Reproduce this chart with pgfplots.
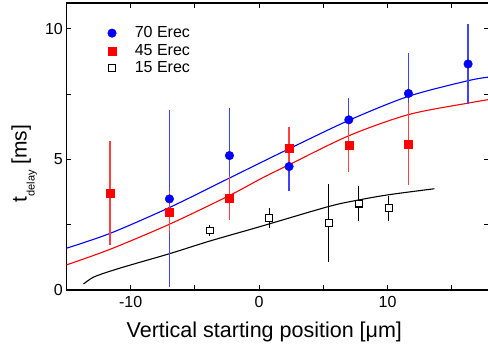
\documentclass[border=0pt]{standalone}
\usepackage{fontspec}
\setmainfont{Liberation Sans}
\usepackage{pgfplots}
\pgfplotsset{compat=1.18}
\begin{document}
\begin{tikzpicture}[x=1bp,y=1bp]
\begin{axis}[
  at={(0bp,0bp)}, anchor=south west,
  scale only axis, width=423bp, height=287.1bp,
  xmin=-15, xmax=17.92, ymin=0, ymax=11,
  xtick={-10,0,10}, minor xtick={-15,-5,5,15},
  ytick={0,5,10}, minor ytick={2.5,7.5},
  tick align=inside, tick pos=both, xticklabel pos=lower, yticklabel pos=left,
  major tick length=5bp, minor tick length=5bp,
  axis line style={line width=1.3bp},
  every tick/.style={black, line width=1bp},
  tick label style={font=\fontsize{16bp}{19bp}\selectfont},
  /pgf/number format/assume math mode=true,
  xticklabel style={yshift=-3bp},
  xlabel={Vertical starting position [μm]},
  xlabel style={font=\fontsize{21.5bp}{24bp}\selectfont, at={(axis description cs:0.468,0)}, anchor=center, yshift=-42bp},
  ylabel={t\raisebox{-8bp}{\fontsize{11bp}{11bp}\selectfont delay} [ms]},
  ylabel style={font=\fontsize{21bp}{24bp}\selectfont, at={(axis description cs:-0.1,0.44)}, anchor=center},
  legend cell align=left,
  legend image code/.code={\draw[#1] plot coordinates {(0bp,0bp)};},
  legend style={draw=none, fill=none, at={(axis cs:-11.8,10.15)}, anchor=north west, inner sep=0pt, row sep=2bp,
    font=\fontsize{16bp}{19bp}\selectfont, nodes={inner sep=1.5bp},
    /tikz/every odd column/.append style={column sep=17bp}},
]
% fitted curves
\addplot[forget plot, blue, line width=1.1bp, smooth] coordinates {
(-15,1.60) (-11.6,2.17) (-6.98,3.16) (-2.31,4.29) (0.08,4.87) (2.33,5.41) (6.98,6.50) (11.62,7.42) (16.26,8.02) (17.92,8.16)};
\addplot[forget plot, red, line width=1.1bp, smooth] coordinates {
(-15,0.96) (-11.6,1.56) (-6.98,2.52) (-2.31,3.62) (0.08,4.25) (2.33,4.80) (6.98,5.91) (11.62,6.72) (16.26,7.16) (17.92,7.30)};
\addplot[forget plot, black, line width=1.1bp, smooth] coordinates {
(-13.67,0.23) (-12.9,0.49) (-11.6,0.72) (-10,0.96) (-6.98,1.39) (-3.81,1.88) (0.08,2.43) (5.42,3.20) (7.76,3.45) (10.09,3.65) (13.64,3.88)};
% data
\addplot[only marks, mark=*, color=blue, mark size=4.3bp,
  error bars/.cd, y dir=both, y explicit, error mark=none,
  error bar style={line width=1.3bp, color=blue!75!white}] coordinates {
(-6.98,3.49) +- (0,3.39)
(-2.31,5.15) +- (0,1.82)
(2.33,4.73) +- (0,0.92)
(6.98,6.52) +- (0,0.82)
(11.62,7.53) +- (0,1.55)
(16.26,8.66) +- (0,1.52)};
\addlegendentry{70 Erec}
\addplot[only marks, mark=square*, color=red, mark size=4bp,
  error bars/.cd, y dir=both, y explicit, error mark=none,
  error bar style={line width=1.3bp, color=red!75!white}] coordinates {
(-11.6,3.71) +- (0,2.0)
(-6.98,2.99) +- (0,0.82)
(-2.31,3.52) +- (0,0.83)
(2.33,5.44) +- (0,0.82)
(6.98,5.54) +- (0,1.02)
(11.62,5.59) +- (0,1.57)};
\addlegendentry{45 Erec}
\addplot[only marks, mark=square*, mark options={fill=white, draw=black, line width=1.1bp}, color=black, mark size=3.4bp,
  error bars/.cd, y dir=both, y explicit, error mark=none,
  error bar style={line width=1.1bp, color=black}] coordinates {
(-3.84,2.28) +- (0,0.2)
(0.78,2.76) +- (0,0.37)
(5.42,2.57) +- (0,1.49)
(7.76,3.31) +- (0,0.67)
(10.09,3.13) +- (0,0.49)};
\addlegendentry{15 Erec}
\end{axis}
\pgfresetboundingbox
\path[use as bounding box] (-66.4bp,-55bp) rectangle (421.6bp,290bp);
\end{tikzpicture}
\end{document}
